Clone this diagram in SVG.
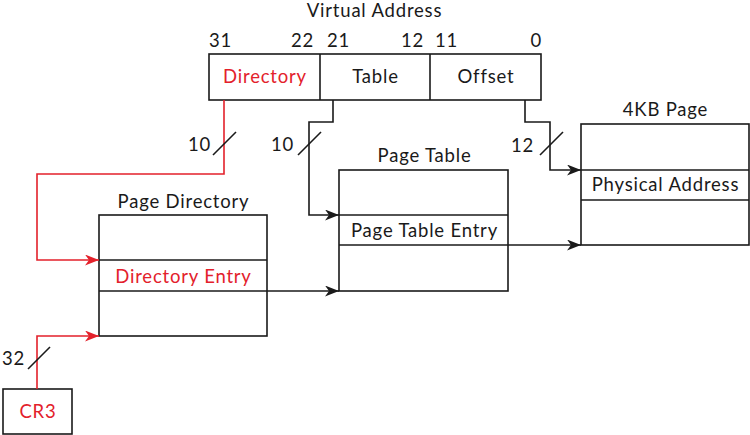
<svg xmlns="http://www.w3.org/2000/svg" width="750" height="435" viewBox="0 0 750 435">
<defs>
<marker id="ah" viewBox="0 0 14 11" refX="14" refY="5.5" markerWidth="14" markerHeight="11" markerUnits="userSpaceOnUse" orient="auto">
<path d="M0,0 L14,5.5 L0,11 L4,5.5 z" fill="#1a1a1a"/>
</marker>
<marker id="ahr" viewBox="0 0 14 11" refX="14" refY="5.5" markerWidth="14" markerHeight="11" markerUnits="userSpaceOnUse" orient="auto">
<path d="M0,0 L14,5.5 L0,11 L4,5.5 z" fill="#e3212b"/>
</marker>
</defs>
<style>
text{font-family:Lato,"Open Sans","Liberation Sans",sans-serif;font-size:18.5px;letter-spacing:0.8px;fill:#1a1a1a}
.c{text-anchor:middle}
.r{fill:#e3212b}
.e{text-anchor:end}
rect,.ln{fill:none;stroke:#1a1a1a;stroke-width:1.6}
.w{fill:none;stroke:#1a1a1a;stroke-width:1.6}
.wr{fill:none;stroke:#e3212b;stroke-width:1.6}
</style>
<rect x="0" y="0" width="750" height="435" fill="#fff" style="stroke:none"/>

<g id="virtual-address">
<text class="c" x="374.5" y="17">Virtual Address</text>
<text x="209" y="47">31</text>
<text class="e" x="314" y="47">22</text>
<text x="327" y="47">21</text>
<text class="e" x="424" y="47">12</text>
<text x="435" y="47">11</text>
<text class="e" x="542" y="47">0</text>
<rect x="209" y="54" width="332" height="46"/>
<line class="ln" x1="320" y1="54" x2="320" y2="100"/>
<line class="ln" x1="430" y1="54" x2="430" y2="100"/>
<text class="c r" x="265" y="83">Directory</text>
<text class="c" x="375.5" y="83">Table</text>
<text class="c" x="486" y="83">Offset</text>
</g>

<g id="page-directory">
<text class="c" x="183.5" y="208">Page Directory</text>
<rect x="99" y="215" width="168" height="121"/>
<line class="ln" x1="99" y1="260" x2="267" y2="260"/>
<line class="ln" x1="99" y1="291" x2="267" y2="291"/>
<text class="c r" x="183.5" y="283">Directory Entry</text>
</g>

<g id="page-table">
<text class="c" x="424.5" y="162">Page Table</text>
<rect x="339" y="170" width="169" height="121"/>
<line class="ln" x1="339" y1="215" x2="508" y2="215"/>
<line class="ln" x1="339" y1="245" x2="508" y2="245"/>
<text class="c" x="424.5" y="237">Page Table Entry</text>
</g>

<g id="page-4kb">
<text class="c" x="665.5" y="116">4KB Page</text>
<rect x="581" y="124" width="168" height="121"/>
<line class="ln" x1="581" y1="170" x2="749" y2="170"/>
<line class="ln" x1="581" y1="200" x2="749" y2="200"/>
<text class="c" x="665.5" y="191">Physical Address</text>
</g>

<g id="cr3">
<rect x="3" y="389" width="69" height="45"/>
<text class="c r" x="38" y="418">CR3</text>
</g>

<g id="connectors">
<polyline class="wr" points="224,100 224,174 37,174 37,260 99,260" marker-end="url(#ahr)"/>
<polyline class="wr" points="37,389 37,336 99,336" marker-end="url(#ahr)"/>
<polyline class="w" points="333,100 333,122 309,122 309,215 339,215" marker-end="url(#ah)"/>
<polyline class="w" points="525,100 525,122 550,122 550,170 581,170" marker-end="url(#ah)"/>
<line class="w" x1="267" y1="291" x2="339" y2="291" marker-end="url(#ah)"/>
<line class="w" x1="508" y1="245" x2="581" y2="245" marker-end="url(#ah)"/>
<line class="w" x1="213" y1="155" x2="236" y2="132"/>
<line class="w" x1="298" y1="155" x2="321" y2="132"/>
<line class="w" x1="540" y1="155" x2="563" y2="132"/>
<line class="w" x1="28" y1="369" x2="50" y2="347"/>
<text x="188" y="151">10</text>
<text x="271" y="151">10</text>
<text x="511" y="152">12</text>
<text x="2" y="365">32</text>
</g>
</svg>
